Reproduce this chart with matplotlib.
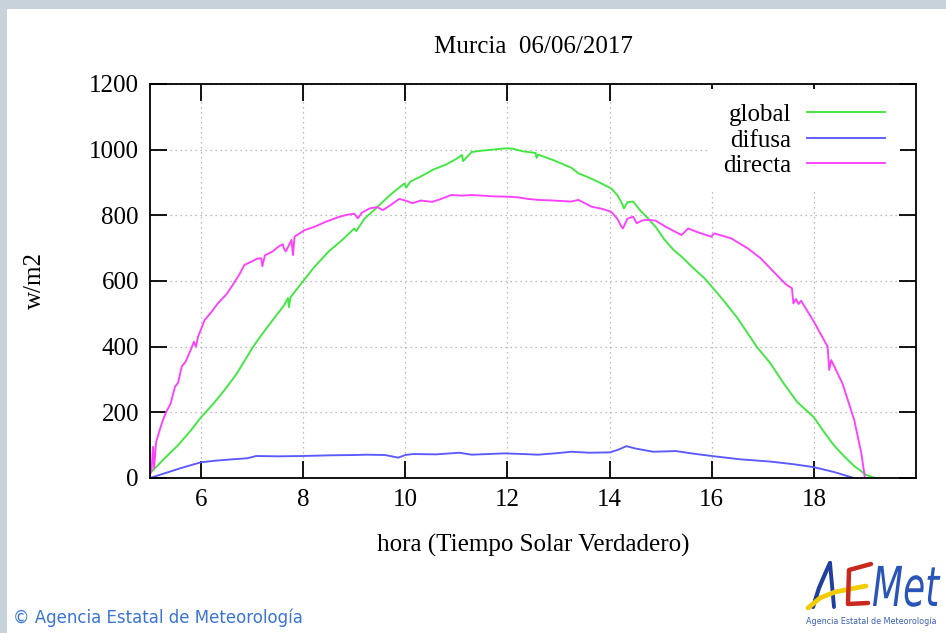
"""Daily solar radiation plot for a single station (global, diffuse, direct)."""

import matplotlib

matplotlib.use("Agg")
import matplotlib.pyplot as plt
from matplotlib.font_manager import FontProperties
from matplotlib.patches import PathPatch, Rectangle
from matplotlib.textpath import TextPath
from matplotlib.transforms import Affine2D

W, H = 946, 633

STATION = "Murcia"
DAY = "06/06/2017"

# hora solar verdadera -> W/m2
global_t = [5.0, 5.03, 5.3, 5.55, 5.8, 6.0, 6.25, 6.46, 6.7, 7.0, 7.11, 7.3, 7.63, 7.7,
            7.72, 7.75, 8.0, 8.22, 8.5, 8.8, 9.0, 9.04, 9.2, 9.43, 9.7, 9.98, 10.02, 10.1,
            10.3, 10.53, 10.8, 11.0, 11.11, 11.13, 11.3, 11.5, 11.7, 11.95, 12.1, 12.3,
            12.55, 12.57, 12.6, 12.9, 13.25, 13.39, 13.58, 13.8, 14.03, 14.15, 14.24,
            14.28, 14.35, 14.46, 14.6, 14.75, 14.9, 15.08, 15.25, 15.41, 15.6, 15.86,
            16.0, 16.25, 16.5, 16.88, 17.15, 17.4, 17.67, 18.0, 18.2, 18.39, 18.6, 18.8,
            19.03, 19.2]
global_v = [15, 19, 62, 100, 145, 185, 228, 268, 318, 395, 420, 460, 527, 548,
            520, 550, 600, 643, 690, 730, 760, 752, 790, 822, 862, 897, 885, 903,
            918, 938, 955, 972, 984, 965, 993, 997, 1000, 1004, 1003, 995,
            990, 975, 985, 968, 945, 928, 916, 900, 882, 862, 837,
            821, 840, 842, 815, 791, 765, 725, 695, 674, 645, 608,
            583, 537, 488, 400, 349, 290, 232, 185, 140, 100, 65, 35,
            9, 0]

difusa_t = [5.0, 5.3, 5.6, 6.0, 6.3, 6.62, 6.9, 7.08, 7.5, 8.0, 8.5, 9.0, 9.24, 9.6,
            9.86, 10.0, 10.15, 10.6, 11.06, 11.3, 11.95, 12.3, 12.6, 13.0, 13.25, 13.6,
            14.0, 14.15, 14.33, 14.5, 14.85, 15.3, 15.6, 16.0, 16.55, 17.15, 17.6, 18.0,
            18.4, 18.78]
difusa_v = [0, 15, 30, 48, 53, 57, 60, 67, 66, 67, 69, 70, 71, 70,
            62, 70, 73, 72, 77, 71, 75, 73, 71, 76, 80, 77,
            78, 85, 97, 90, 80, 82, 75, 67, 57, 50, 42, 33,
            18, 0]

directa_t = [5.0, 5.03, 5.06, 5.08, 5.12, 5.19, 5.25, 5.32, 5.4, 5.49, 5.55, 5.62, 5.7,
             5.81, 5.86, 5.9, 5.94, 6.07, 6.2, 6.33, 6.5, 6.62, 6.75, 6.85, 7.0, 7.1,
             7.18, 7.2, 7.25, 7.4, 7.51, 7.6, 7.62, 7.66, 7.77, 7.8, 7.83, 8.03, 8.22,
             8.45, 8.7, 8.84, 9.0, 9.07, 9.15, 9.3, 9.45, 9.56, 9.7, 9.88, 10.0, 10.14,
             10.3, 10.53, 10.7, 10.9, 11.1, 11.3, 11.5, 11.7, 11.95, 12.2, 12.4, 12.6,
             12.9, 13.25, 13.39, 13.65, 13.85, 14.03, 14.15, 14.23, 14.26, 14.35, 14.46,
             14.53, 14.65, 14.75, 14.9, 15.1, 15.41, 15.54, 15.7, 15.99, 16.05, 16.38,
             16.7, 16.96, 17.2, 17.45, 17.57, 17.6, 17.65, 17.7, 17.75, 18.0, 18.27,
             18.3, 18.34, 18.56, 18.79, 18.93, 19.0]
directa_v = [10, 24, 95, 30, 110, 146, 175, 202, 225, 278, 290, 339, 355,
             395, 415, 400, 430, 481, 505, 532, 560, 588, 620, 649, 660, 668,
             669, 645, 678, 690, 704, 712, 700, 690, 725, 679, 735, 755, 765,
             781, 795, 801, 805, 791, 808, 821, 825, 816, 830, 850, 845, 837,
             845, 841, 850, 862, 860, 862, 860, 858, 857, 855, 850, 847,
             845, 842, 847, 826, 820, 811, 790, 766, 760, 790, 796,
             776, 785, 786, 784, 765, 740, 760, 750, 735, 745, 730,
             700, 669, 630, 590, 578, 532, 545, 530, 540, 476, 400,
             329, 359, 288, 177, 75, 0]

hour_ticks = [6, 8, 10, 12, 14, 16, 18]
wm2_ticks = [0, 200, 400, 600, 800, 1000, 1200]

COLORS = {"global": "#3fe83f", "difusa": "#5a5aff", "directa": "#ff40ff"}
BLUE_TEXT = "#3a74d6"
FS = 18


def px(x, y):
    """Pixel position (from top-left) to figure fraction."""
    return x / W, 1 - y / H


def draw_logo(over):
    # stylised agency logo, drawn in pixel space
    over.plot([813, 819, 825, 830], [607, 588, 574, 563], color="#1f3f9f", lw=3.0,
              solid_capstyle="round")
    over.plot([830, 832, 834], [563, 585, 607], color="#1f3f9f", lw=2.8,
              solid_capstyle="round")
    over.plot([808, 820, 835, 850, 866], [608, 598, 592, 589, 586], color="#f2cc00",
              lw=3.4, solid_capstyle="round")
    over.plot([871, 849, 848, 868], [564, 570, 604, 603], color="#c8281e", lw=3.2,
              solid_capstyle="round", solid_joinstyle="round")
    met = TextPath((0, 0), "Met", size=1,
                   prop=FontProperties(family="DejaVu Sans", style="italic"))
    tr = Affine2D().scale(36, -55).translate(872, 606) + over.transData
    over.add_patch(PathPatch(met, transform=tr, color="#2a55b8", lw=0))
    over.text(871, 622, "Agencia Estatal de Meteorología", fontsize=5.8,
              color="#3a5fb8", ha="center", va="center", family="DejaVu Sans")


def main():
    plt.rcParams["font.family"] = ["Liberation Serif", "DejaVu Serif"]
    fig = plt.figure(figsize=(W / 100, H / 100), dpi=100, facecolor="white")

    over = fig.add_axes([0, 0, 1, 1])
    over.set_xlim(0, W)
    over.set_ylim(H, 0)
    over.axis("off")
    over.add_patch(Rectangle((0, 0), W, 9, color="#c8d2da", lw=0))
    over.add_patch(Rectangle((0, 0), 7, H, color="#c8d2da", lw=0))

    left, bottom = px(150, 478)
    right, top = px(916, 84)
    ax = fig.add_axes([left, bottom, right - left, top - bottom])

    ax.plot(global_t, global_v, color=COLORS["global"], lw=1.35, label="global")
    ax.plot(difusa_t, difusa_v, color=COLORS["difusa"], lw=1.35, label="difusa")
    ax.plot(directa_t, directa_v, color=COLORS["directa"], lw=1.35, label="directa")

    ax.set_xlim(5, 20)
    ax.set_ylim(0, 1200)
    ax.set_xticks(hour_ticks)
    ax.set_yticks(wm2_ticks)
    ax.tick_params(direction="in", length=12, width=1.3, top=True, right=True,
                   labelsize=FS, colors="black")
    ax.tick_params(axis="x", pad=8)
    ax.tick_params(axis="y", pad=8)
    ax.grid(True, color="#a8a8a8", linestyle=(0, (1, 3)), linewidth=0.9)
    for sp in ax.spines.values():
        sp.set_linewidth(1.3)

    ax.legend(loc="upper right", bbox_to_anchor=(0.979, 0.988), markerfirst=False,
              frameon=True, facecolor="white", edgecolor="none", framealpha=1,
              fancybox=False, fontsize=FS, handlelength=3.1, handletextpad=0.65,
              labelspacing=0.12, borderpad=0.6, borderaxespad=0)

    fig.text(*px(533, 47), f"{STATION}  {DAY}", fontsize=FS, ha="center", va="center")
    fig.text(*px(533, 545), "hora (Tiempo Solar Verdadero)", fontsize=FS,
             ha="center", va="center")
    fig.text(*px(35, 280), "w/m2", fontsize=FS, rotation=90, ha="center", va="center")

    fig.text(*px(13, 618), "© Agencia Estatal de Meteorología", fontsize=12,
             color=BLUE_TEXT, ha="left", va="center", family="DejaVu Sans")
    draw_logo(over)

    fig.savefig("out.png", dpi=100, facecolor="white")
    plt.close(fig)


if __name__ == "__main__":
    main()
